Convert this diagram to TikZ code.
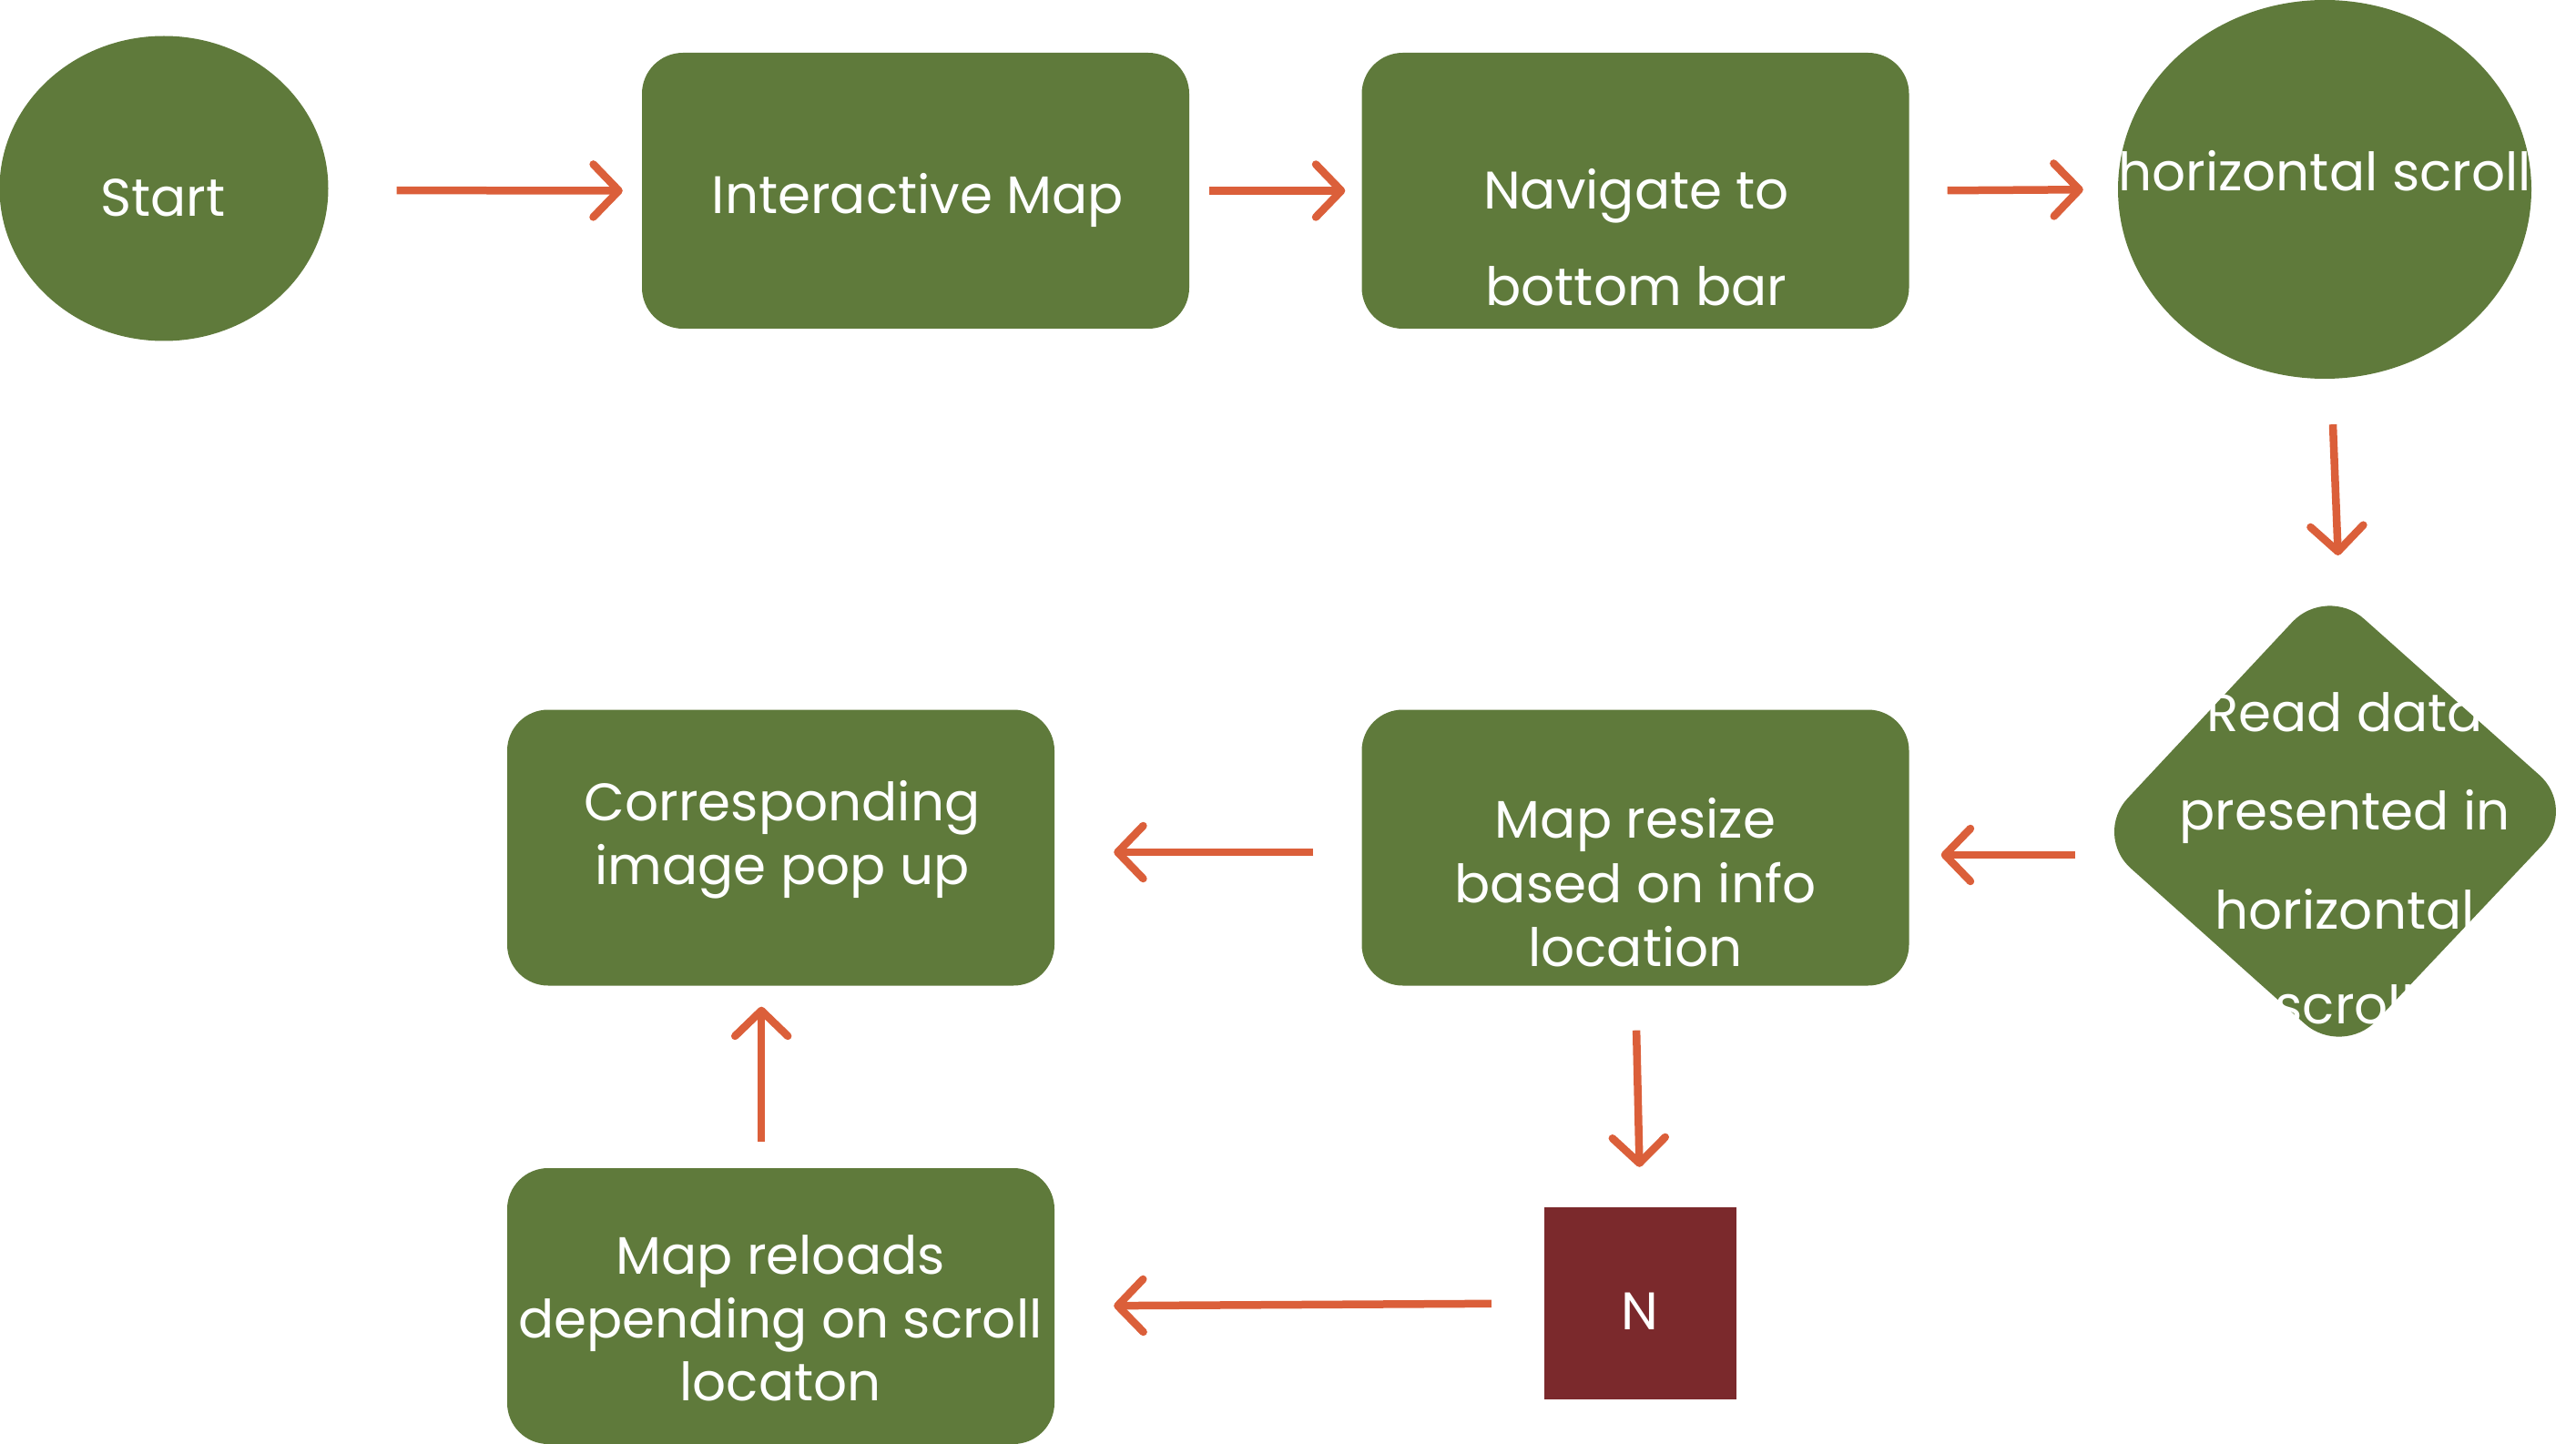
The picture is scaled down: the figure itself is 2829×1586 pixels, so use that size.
\documentclass[tikz,border=0pt]{standalone}
\usepackage{fontspec}
\setmainfont{Poppins}
\usetikzlibrary{arrows.meta,shapes.geometric,calc}
\definecolor{grn}{HTML}{5F7A3B}
\definecolor{arrc}{HTML}{DB5F3A}
\definecolor{nred}{HTML}{7B292C}
\begin{document}
\begin{tikzpicture}[x=1pt,y=-1pt,
  box/.style={fill=grn, draw=none, rounded corners=45pt, minimum width=601pt, minimum height=303pt, inner sep=0pt},
  oval/.style={fill=grn, draw=none, ellipse, inner sep=0pt},
  txt/.style={text=white, font=\fontsize{58}{68}\selectfont, anchor=base, inner sep=0pt},
  arr/.style={draw=arrc, line width=8.5pt, -{Straight Barb[length=28pt,width=58pt,round]}}
]
\useasboundingbox (0,0) rectangle (2829,1586);

% shapes
\node[oval, minimum width=361pt, minimum height=335pt] (st) at (180,207) {};
\node[box] (im) at (1005.5,209.5) {};
\node[box] (nav) at (1796,209.5) {};
\node[oval, minimum width=454pt, minimum height=416pt] (hs) at (2553,208) {};
\node[box] (cp) at (857.5,931) {};
\node[box] (mr) at (1796,931) {};
\node[box] (mrl) at (857.5,1434.5) {};
\node[fill=nred, draw=none, minimum size=211pt, inner sep=0pt] (nn) at (1801.5,1431.5) {};

\coordinate (dtop) at (2555,643);
\coordinate (dright) at (2830,888);
\coordinate (dbot) at (2572,1161);
\coordinate (dleft) at (2299,917);
\fill[grn, rounded corners=55pt] ($(dleft)!0.5!(dtop)$) -- (dtop) -- (dright) -- (dbot) -- (dleft) -- cycle;

% texts
\node[txt] (tst) at (179,238) {Start};
\node[txt] (tim) at (1008,235) {Interactive Map};
\node[txt] (tnav1) at (1797,230) {Navigate to};
\node[txt] (tnav2) at (1797,336) {bottom bar};
\node[txt] (ths) at (2553,210) {horizontal scroll};
\node[txt] (td1) at (2575,803) {Read data};
\node[txt] (td2) at (2575,911) {presented in};
\node[txt] (td3) at (2575,1020) {horizontal};
\node[txt] (td4) at (2575,1124) {scroll};
\node[txt] (tcp1) at (859,901) {Corresponding};
\node[txt] (tcp2) at (859,971) {image pop up};
\node[txt] (tmr1) at (1796,920) {Map resize};
\node[txt] (tmr2) at (1796,991) {based on info};
\node[txt] (tmr3) at (1796,1061) {location};
\node[txt] (tml1) at (857,1399) {Map reloads};
\node[txt] (tml2) at (857,1469) {depending on scroll};
\node[txt] (tml3) at (857,1538) {locaton};
\node[txt] (tn) at (1801,1460) {N};

% connectors
\draw[arr, shorten <=75pt, shorten >=21pt] ([yshift=-2pt]st.east) -- (im.west);
\draw[arr, shorten <=22pt, shorten >=18pt] (im.east) -- (nav.west);
\draw[arr, shorten <=42pt, shorten >=38pt] (nav.east) -- (hs.west);
\draw[arr, shorten <=50pt, shorten >=33pt] ([xshift=7pt]hs.south) -- ([xshift=14pt]dtop);
\draw[arr, shorten <=20pt, shorten >=35pt] ([yshift=-8pt]dleft |- mr.east) -- ([yshift=-8pt]mr.east);
\draw[arr, shorten <=53pt, shorten >=65pt] ([yshift=-5pt]mr.west) -- ([yshift=-5pt]cp.east);
\draw[arr, shorten <=49pt, shorten >=44pt] (mr.south) -- (nn.north);
\draw[arr, shorten <=58pt, shorten >=65pt] (nn.west) -- (mrl.east);
\draw[arr, shorten <=29pt, shorten >=23pt] (mrl.98) -- (cp.262);
\end{tikzpicture}
\end{document}
